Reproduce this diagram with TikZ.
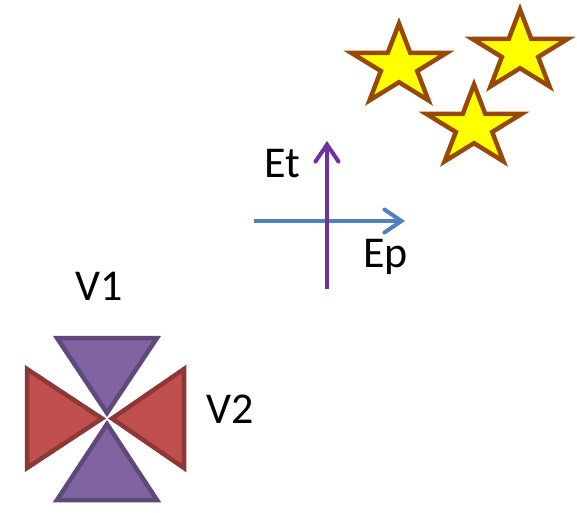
\documentclass[tikz,border=0pt]{standalone}
\usepackage{fontspec}
\setmainfont{Carlito}
\usetikzlibrary{arrows.meta}

\definecolor{starfill}{HTML}{FFFF00}
\definecolor{starline}{HTML}{984807}
\definecolor{axisv}{HTML}{7030A0}
\definecolor{axish}{HTML}{4F81BD}
\definecolor{vfill}{HTML}{8064A2}
\definecolor{vline}{HTML}{5F497A}
\definecolor{hfill}{HTML}{C0504D}
\definecolor{hline}{HTML}{8C3836}

\tikzset{
  label text/.style={font=\fontsize{44}{44}\selectfont, inner sep=0pt, anchor=base west},
  starstyle/.style={draw=starline, fill=starfill, line width=4.5pt, line join=miter},
  vtri/.style={draw=vline, fill=vfill, line width=4.5pt, line join=miter},
  htri/.style={draw=hline, fill=hfill, line width=4.5pt, line join=miter},
  axis arrow/.style={line width=4pt, -{Straight Barb[length=17pt,width=23pt,line cap=round]}},
  starpic/.pic={
    \path[starstyle, xscale=1.18]
      (0,-42.5)
      \foreach \a/\r in {126/16.2,162/42.5,198/16.2,234/42.5,270/16.2,306/42.5,342/16.2,18/42.5,54/16.2}
        { -- ({\r*cos(\a)},{-\r*sin(\a)}) }
      -- cycle;
  }
}

\begin{document}
\begin{tikzpicture}[x=1pt,y=-1pt]
  \useasboundingbox (0,0) rectangle (577,512);

  % three stars
  \pic at (399,66) {starpic};
  \pic at (520,52) {starpic};
  \pic at (474,127) {starpic};

  % axes
  \coordinate (etfoot) at (327,289);
  \coordinate (ettip)  at (327,141);
  \coordinate (epfoot) at (254,221);
  \coordinate (eptip)  at (405,221);
  \draw[axis arrow, axish] (epfoot) -- (eptip);
  \draw[axis arrow, axisv] (etfoot) -- (ettip);
  \node[label text] (et) at (264,177) {Et};
  \node[label text] (ep) at (363,267) {Ep};

  % crossed triangles
  \path[vtri] (57,338) -- (157,338) -- (107,413) -- cycle;
  \path[vtri] (57,500) -- (157,500) -- (107,424) -- cycle;
  \path[htri] (27,369) -- (27,468) -- (102,418.5) -- cycle;
  \path[htri] (184,369) -- (184,468) -- (112,418.5) -- cycle;
  \node[label text] (v1) at (75,300) {V1};
  \node[label text] (v2) at (206,423) {V2};
\end{tikzpicture}
\end{document}
